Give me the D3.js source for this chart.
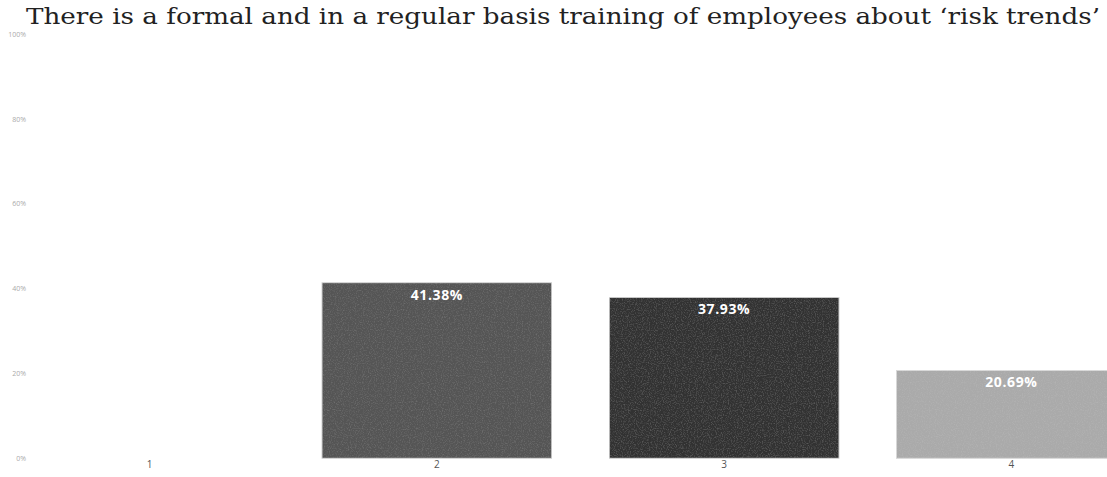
<!DOCTYPE html>
<html>
<head>
<meta charset="utf-8">
<script src="https://cdn.jsdelivr.net/npm/d3@7"></script>
<style>
  html, body { margin: 0; padding: 0; background: #fff; }
  svg { display: block; }
</style>
</head>
<body>
<svg id="chart" width="1107" height="477"></svg>
<script>
// Survey answers on a 1–4 scale, share of respondents per answer
const categories = ["1", "2", "3", "4"];
const shares = [0, 41.38, 37.93, 20.69];
const barColors = ["#777777", "#545454", "#333333", "#aaaaaa"];
const yTicks = [0, 20, 40, 60, 80, 100];
const titleText = "There is a formal and in a regular basis training of employees about \u2018risk trends\u2019";

const svg = d3.select("#chart");

const x = d3.scaleBand()
  .domain(categories)
  .range([6, 1155])
  .paddingInner(0.2)
  .paddingOuter(0.1);

const y = d3.scaleLinear()
  .domain([0, 100])
  .range([458.3, 33.9]);

// grain texture applied to the bars
const defs = svg.append("defs");
const f = defs.append("filter").attr("id", "grain")
  .attr("x", 0).attr("y", 0).attr("width", 1).attr("height", 1);
f.append("feTurbulence").attr("type", "fractalNoise")
  .attr("baseFrequency", 0.85).attr("numOctaves", 2).attr("seed", 3).attr("result", "noise");
f.append("feColorMatrix").attr("in", "noise").attr("type", "matrix")
  .attr("values", "0 0 0 0 1  0 0 0 0 1  0 0 0 0 1  0.9 0 0 0 -0.42").attr("result", "specks");
f.append("feComposite").attr("in", "specks").attr("in2", "SourceAlpha").attr("operator", "in").attr("result", "clipped");
f.append("feComponentTransfer").attr("in", "clipped").attr("result", "soft")
  .append("feFuncA").attr("type", "linear").attr("slope", 0.2);
const m = f.append("feMerge");
m.append("feMergeNode").attr("in", "SourceGraphic");
m.append("feMergeNode").attr("in", "soft");

// title
svg.append("text")
  .attr("x", 563)
  .attr("y", 24)
  .attr("text-anchor", "middle")
  .attr("font-family", "'DejaVu Serif', 'Liberation Serif', serif")
  .attr("font-size", 23)
  .attr("textLength", 1074)
  .attr("lengthAdjust", "spacingAndGlyphs")
  .attr("fill", "#222")
  .text(titleText);

// y axis (labels only)
const yAxis = d3.axisLeft(y)
  .tickValues(yTicks)
  .tickFormat(d => d + "%")
  .tickSize(0)
  .tickPadding(0);
const gy = svg.append("g").attr("transform", "translate(26,0)").call(yAxis);
gy.select(".domain").remove();
gy.selectAll("text")
  .attr("font-family", "'Open Sans', sans-serif")
  .attr("font-size", 7)
  .attr("fill", "#aaaaaa");

// bars
const bars = categories.map((c, i) => ({ c, v: shares[i], color: barColors[i] }));
svg.append("g").selectAll("rect")
  .data(bars.filter(d => d.v > 0))
  .join("rect")
  .attr("x", d => x(d.c))
  .attr("y", d => y(d.v))
  .attr("width", x.bandwidth())
  .attr("height", d => y(0) - y(d.v))
  .attr("fill", d => d.color)
  .attr("stroke", "#d8d8d8")
  .attr("stroke-width", 1)
  .attr("filter", "url(#grain)");

// value labels inside the bars
svg.append("g").selectAll("text")
  .data(bars.filter(d => d.v > 0))
  .join("text")
  .attr("x", d => x(d.c) + x.bandwidth() / 2)
  .attr("y", d => y(d.v) + 17)
  .attr("text-anchor", "middle")
  .attr("font-family", "'Open Sans', sans-serif")
  .attr("font-weight", 700)
  .attr("font-size", 14)
  .attr("letter-spacing", 0.6)
  .attr("fill", "#ffffff")
  .text(d => d.v.toFixed(2) + "%");

// x axis (labels only)
const xAxis = d3.axisBottom(x).tickSize(0).tickPadding(0);
const gx = svg.append("g").attr("transform", "translate(0,461)").call(xAxis);
gx.select(".domain").remove();
gx.selectAll("text")
  .attr("font-family", "'Open Sans', sans-serif")
  .attr("font-size", 10)
  .attr("fill", "#555");
</script>
</body>
</html>
